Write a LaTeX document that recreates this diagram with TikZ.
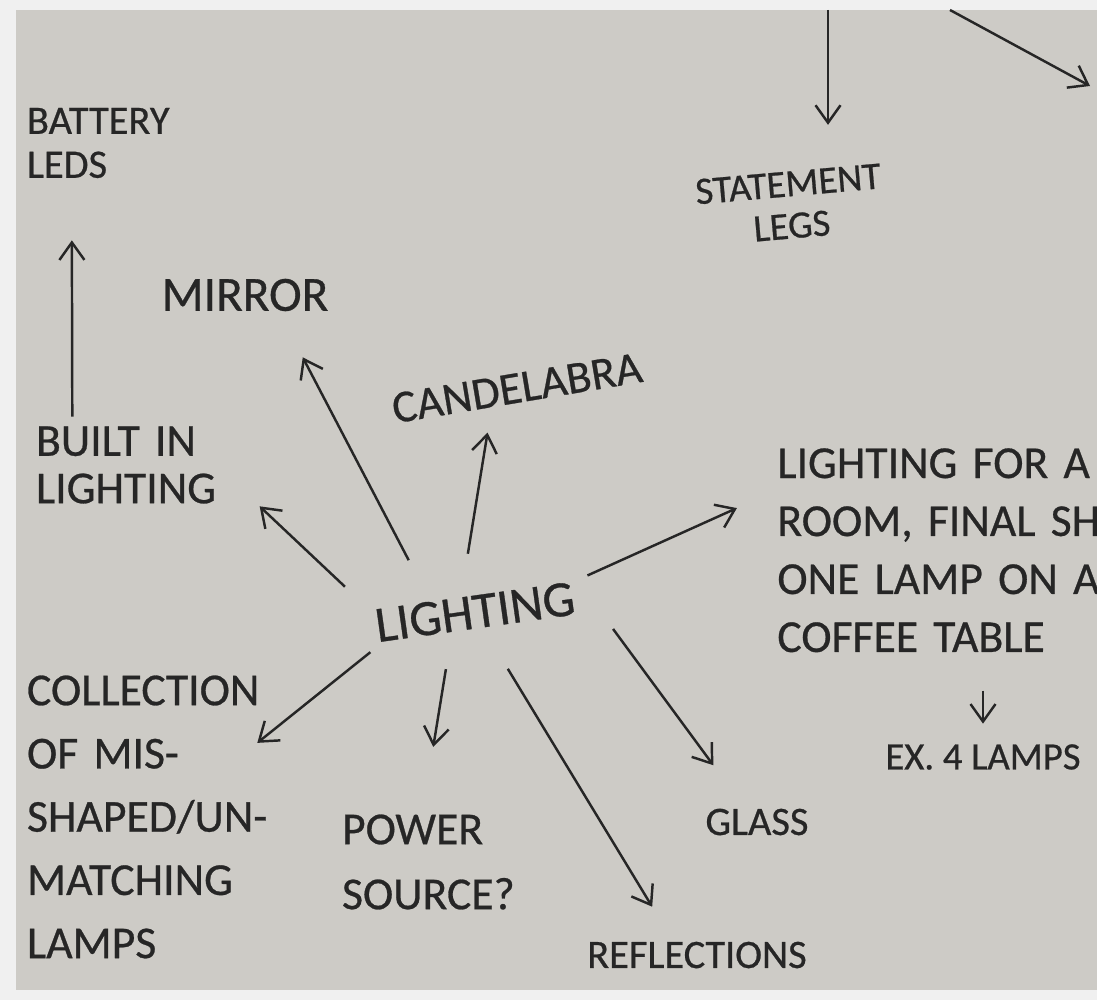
\documentclass[tikz,border=0pt]{standalone}
\usepackage{fontspec}
\setmainfont{Carlito}[FakeBold=0.6]
\usepackage{graphicx}
\usetikzlibrary{shapes.geometric, arrows.meta}
\definecolor{paperColor}{HTML}{CDCBC6}
\definecolor{frameColor}{HTML}{F0F0F0}
\colorlet{inkColor}{black!85}
\newcommand{\handsize}[2]{\fontsize{#1}{#2}\selectfont}
\tikzstyle{word}=[inner sep=0pt, text=inkColor, align=center]
\tikzstyle{arrow}=[-{Straight Barb[length=3.5mm, width=5mm]}, line width=1.4pt, draw=inkColor]

\begin{document}
\begin{tikzpicture}[x=0.02cm, y=-0.02cm]
  \useasboundingbox (0,0) rectangle (1097,1000);
  \clip (0,0) rectangle (1097,1000);
  % the sheet of paper
  \fill[frameColor] (0,0) rectangle (1097,1000);
  \fill[paperColor] (16,10) rectangle (1097,990);

  % centre of the map
  \node (lighting) [ellipse, word, minimum width=4.72cm, minimum height=2.32cm,
    font=\handsize{29}{30}] at (475,612) {\rotatebox{8}{LIGHTING}};

  \node (mirror) [word, minimum width=3.72cm, minimum height=0.92cm,
    font=\handsize{28}{30}] at (245,295) {MIRROR};
  \node (candelabra) [word, rotate=9.5, minimum width=5.08cm, minimum height=0.72cm,
    font=\handsize{26}{28}] at (517,388) {CANDELABRA};
  \node (builtIn) [word, align=left, text width=3.84cm, minimum height=1.92cm,
    font=\handsize{26}{27}] at (132,465) {BUILT IN\\LIGHTING};
  \node (battery) [word, align=left, text width=3cm, minimum height=2cm,
    font=\handsize{23}{25}] at (102,143) {BATTERY\\LEDS};
  \node (statement) [word, rotate=5, minimum height=1.8cm,
    font=\handsize{22}{24}] at (790,205) {STATEMENT\\LEGS};
  \node (room) [word, anchor=north west, align=left, text width=7.2cm,
    font=\handsize{26}{33}] at (777,448)
    {LIGHTING FOR A\\ROOM, FINAL SH\\ONE LAMP ON A\\COFFEE TABLE};
  \node (ex4) [word, minimum height=0.72cm, font=\handsize{22}{24}] at (983,757) {EX. 4 LAMPS};
  \node (glass) [word, minimum width=1.8cm, minimum height=1cm,
    font=\handsize{23}{24}] at (757,822) {GLASS};
  \node (reflections) [word, minimum width=4.4cm, minimum height=1.32cm,
    font=\handsize{23}{25}] at (697,955) {REFLECTIONS};
  \node (power) [word, align=left, text width=3.6cm, minimum height=2.6cm,
    font=\handsize{26}{37}] at (432,862) {POWER\\SOURCE?};
  \node (collection) [word, align=left, text width=5.2cm, minimum height=6.4cm,
    font=\handsize{26}{36}] at (157,817) {COLLECTION\\OF MIS-\\SHAPED/UN-\\MATCHING\\LAMPS};

  % arrows coming in from the top edge
  \coordinate (topLeft) at (828,10);
  \coordinate (topRight) at (950,10);
  \coordinate (offPage) at (1090,86);

  \draw[arrow, shorten >=0.88cm] (lighting.142) -- (mirror.-32);
  \draw[arrow, shorten >=0.44cm] (lighting.97) -- (candelabra.-148);
  \draw[arrow, shorten >=0.86cm] (lighting.169) -- (builtIn.-7);
  \draw[arrow, shorten >=0.94cm] (builtIn.141) -- (battery.-121);
  \draw[arrow, shorten >=0.88cm] (lighting.18) -- ([yshift=-0.84cm]room.north west);
  \draw[arrow, shorten <=0.76cm, shorten >=0.3cm] (room.south -| ex4.north) -- (ex4.north);
  \draw[arrow, shorten >=0.78cm] (lighting.-7) -- (glass.129);
  \draw[arrow, shorten >=0.35cm] (lighting.-60) -- (reflections.137);
  \draw[arrow, shorten >=1.01cm] (lighting.-117) -- (power.96);
  \draw[arrow, shorten >=-0.77cm] (lighting.-159) -- (collection.37);
  \draw[arrow, shorten >=0.7cm] (topLeft) -- (topLeft |- statement.north);
  \draw[arrow] (topRight) -- (offPage);
\end{tikzpicture}
\end{document}
